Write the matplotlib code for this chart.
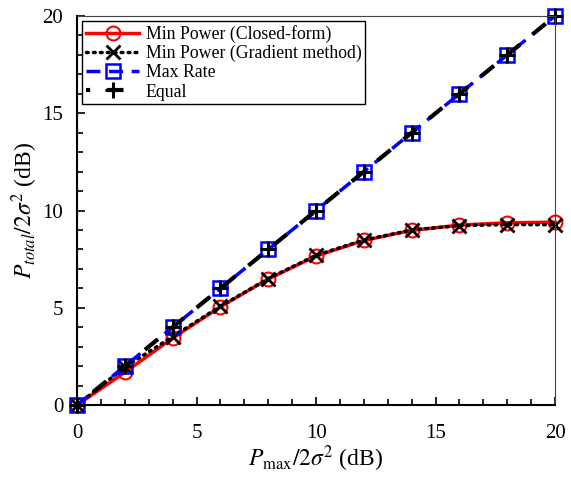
import numpy as np
import matplotlib
matplotlib.use("Agg")
import matplotlib.pyplot as plt
from matplotlib.ticker import MultipleLocator

plt.rcParams['font.family'] = ['Liberation Serif', 'DejaVu Serif']
plt.rcParams['mathtext.fontset'] = 'stix'

# P_max / 2 sigma^2 in dB
p_max_db = [0, 2, 4, 6, 8, 10, 12, 14, 16, 18, 20]
# total power for each allocation scheme (dB)
min_power_closed = [0, 1.68, 3.44, 5.05, 6.48, 7.66, 8.46, 8.98, 9.25, 9.37, 9.40]
min_power_grad = [0, 1.95, 3.52, 5.08, 6.50, 7.70, 8.48, 9.00, 9.22, 9.28, 9.27]
max_rate = [0, 2, 4, 6, 8, 10, 12, 14, 16, 18, 20]
equal = [0, 2, 4, 6, 8, 10, 12, 14, 16, 18, 20]

fig = plt.figure(figsize=(5.71, 4.79), dpi=100)
ax = fig.add_axes([0.135, 0.1545, 0.837, 0.812])

ax.plot(p_max_db, min_power_closed, color='red', lw=2.5, ls='-',
        marker='o', ms=10, mfc='none', mew=1.5, clip_on=False,
        label='Min Power (Closed-form)')
ax.plot(p_max_db, min_power_grad, color='black', lw=2.5, ls=(0, (0.5, 1.5)),
        dash_capstyle='round', marker='x', ms=10, mew=2.0, clip_on=False,
        label='Min Power (Gradient method)')
ax.plot(p_max_db, max_rate, color='blue', lw=2.5, ls=(0, (4, 2.5)),
        marker='s', ms=10, mfc='none', mew=1.8, clip_on=False,
        label='Max Rate')
ax.plot(p_max_db, equal, color='black', lw=3.0, ls=(3, (4, 4)),
        marker='+', ms=11, mew=2.2, clip_on=False, label='Equal')

ax.set_xlim(0, 20)
ax.set_ylim(0, 20)
ax.xaxis.set_major_locator(MultipleLocator(5))
ax.yaxis.set_major_locator(MultipleLocator(5))
ax.xaxis.set_minor_locator(MultipleLocator(1))
ax.yaxis.set_minor_locator(MultipleLocator(1))
ax.tick_params(which='both', direction='in', top=False, right=False,
               labelsize=15, width=1.2)
ax.tick_params(which='major', length=6, pad=10)
ax.tick_params(axis='x', which='major', pad=14)
ax.tick_params(which='minor', length=4)
ax.spines['left'].set_linewidth(1.5)
ax.spines['bottom'].set_linewidth(1.5)
ax.spines['top'].set_color('#444444')
ax.spines['right'].set_color('#444444')

ax.set_xlabel(r'$P_{\mathrm{max}}/2\sigma^2$ (dB)', fontsize=17, labelpad=0)
ax.set_ylabel(r'$P_{total}/2\sigma^2$ (dB)', fontsize=17, labelpad=2)

leg = ax.legend(loc='upper left', fontsize=12.8, fancybox=False,
                edgecolor='black', framealpha=1, handlelength=3.0,
                borderpad=0.2, labelspacing=0.12, handletextpad=0.35,
                borderaxespad=0.3)
leg.get_frame().set_linewidth(1.0)

fig.savefig('out.png', dpi=100)
